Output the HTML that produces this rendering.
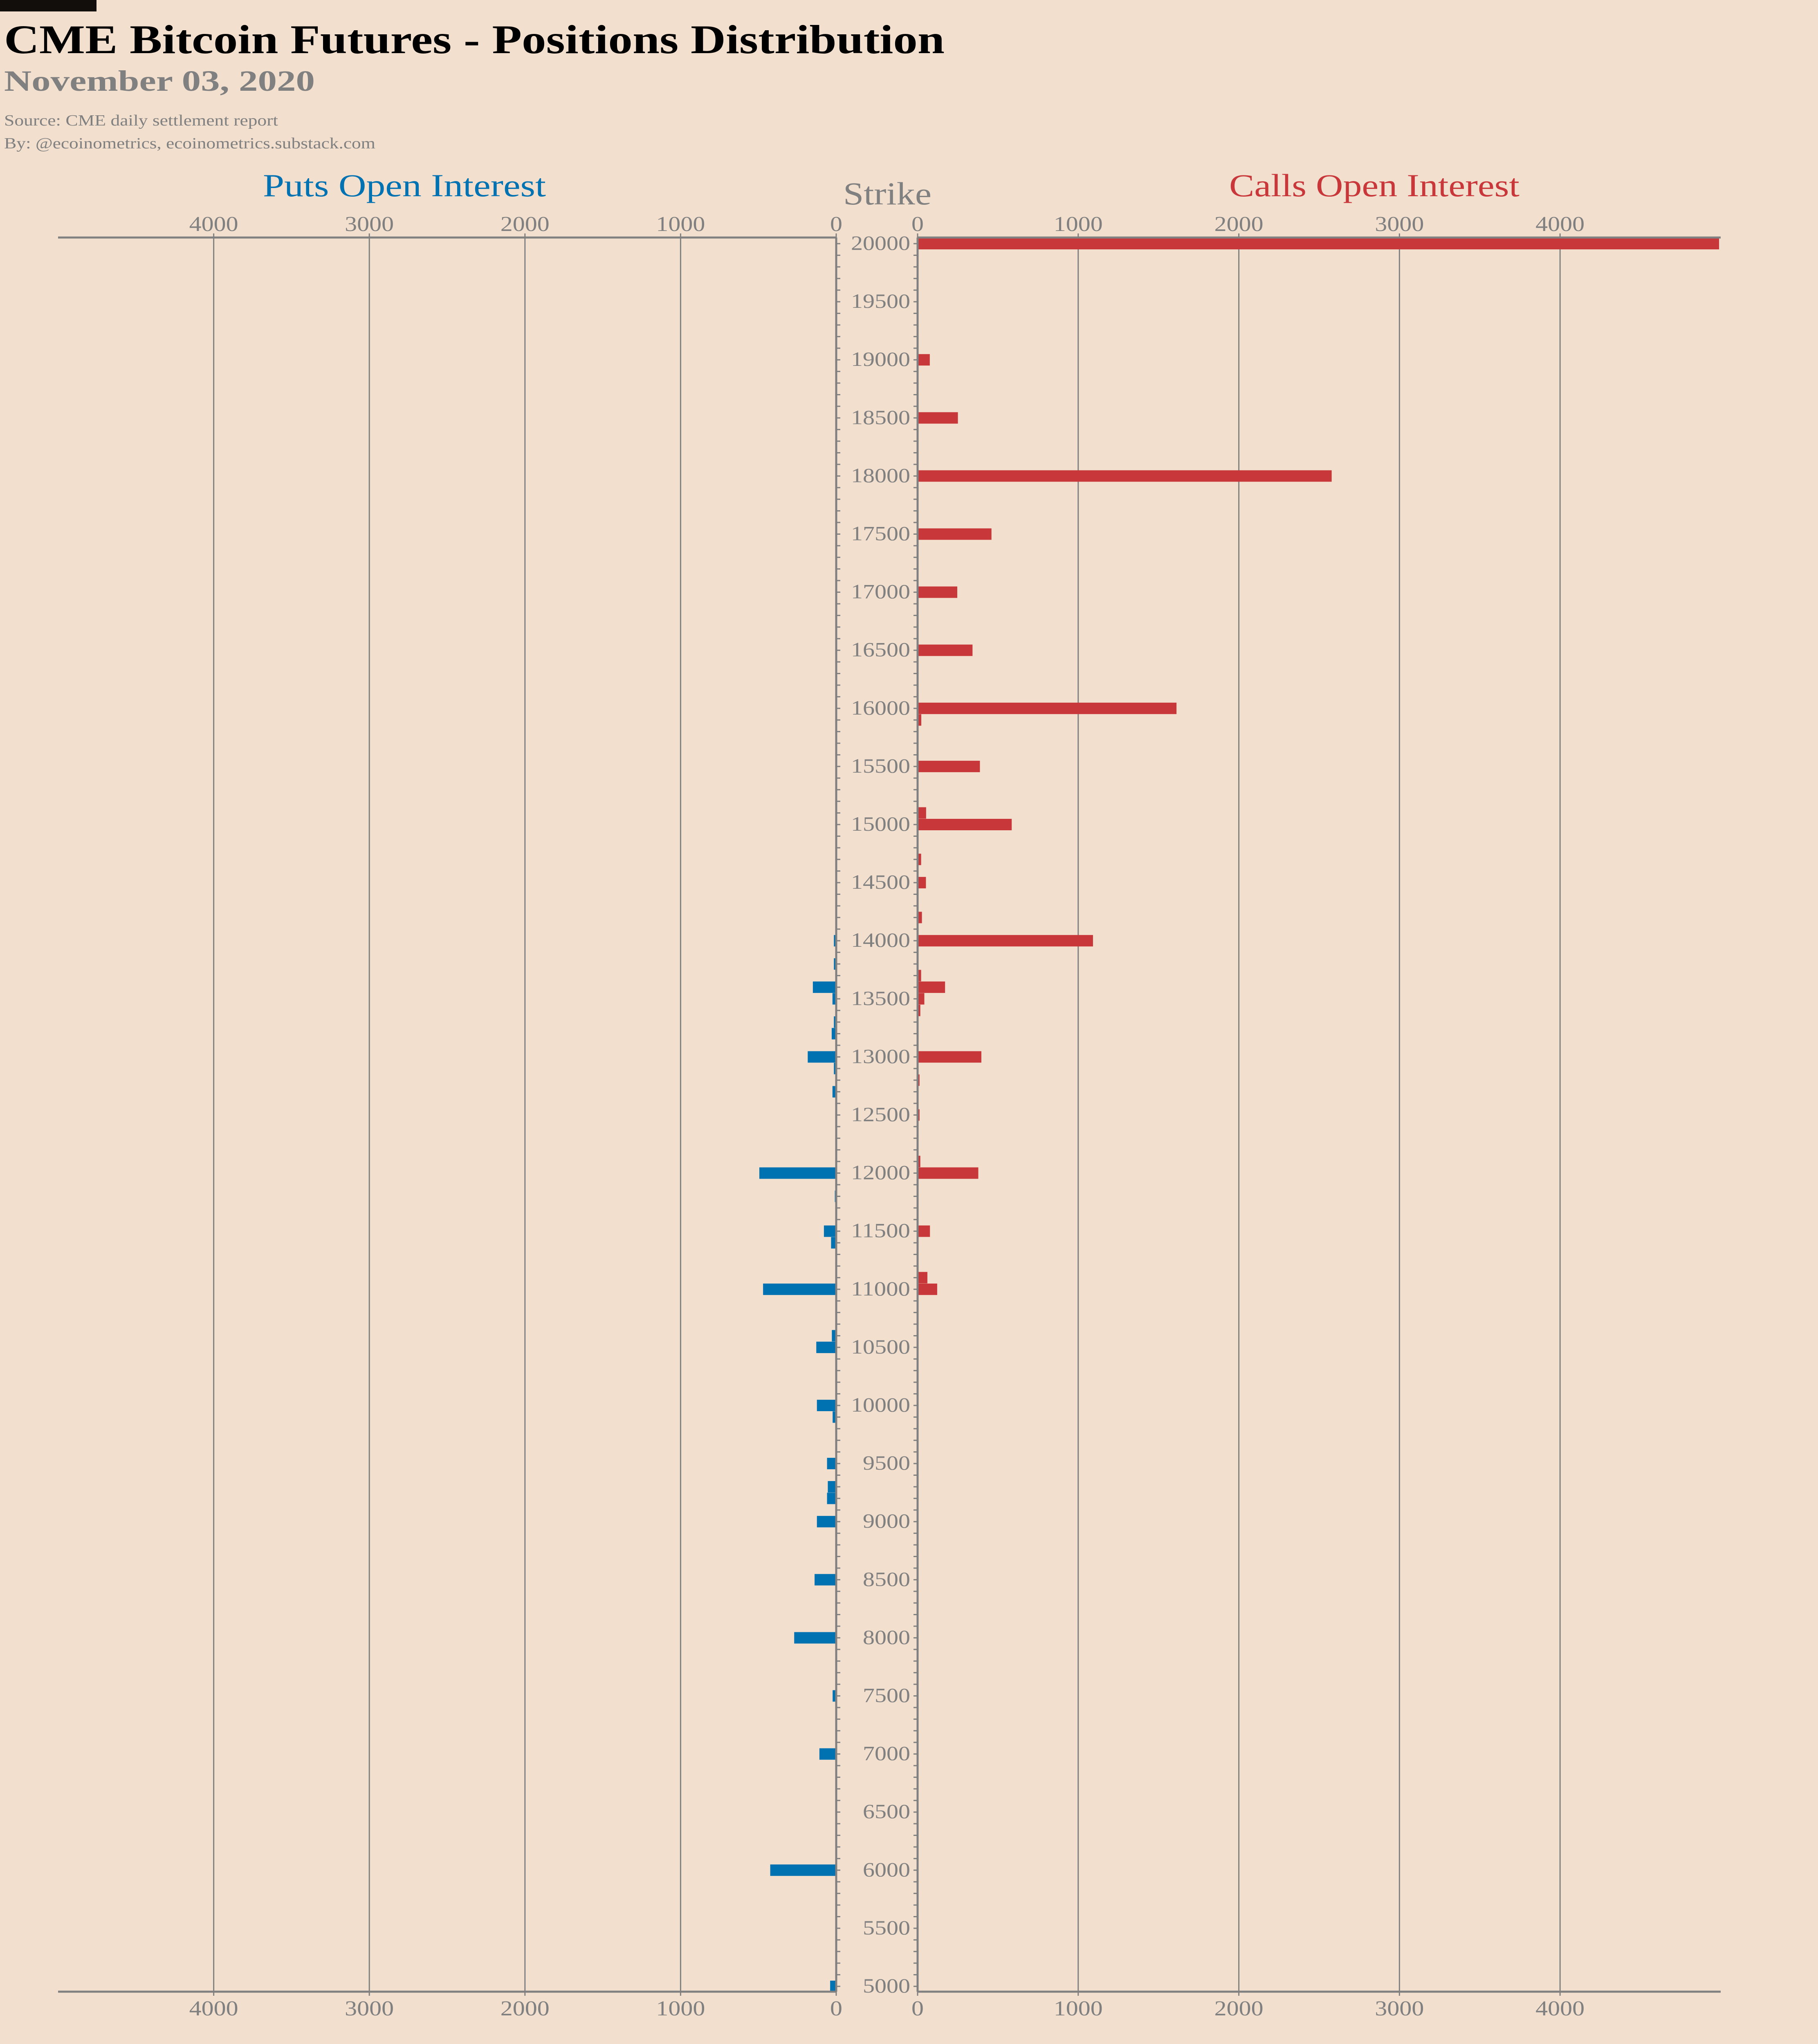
<!DOCTYPE html>
<html>
<head>
<meta charset="utf-8">
<style>
html,body{margin:0;padding:0;background:#f2dfce;width:4446px;height:5051px;overflow:hidden;}
svg{display:block;vertical-align:top;}
body{line-height:0;font-size:0;}
text{font-family:"Liberation Serif",serif;}
</style>
</head>
<body>
<svg id="chart" xmlns="http://www.w3.org/2000/svg" width="4446" height="5051" viewBox="0 0 4446 5051">
<rect x="0" y="0" width="4446" height="5051" fill="#f2dfce"/>
<rect x="0" y="0" width="236" height="28" fill="#110e0b"/>
<text x="10" y="130" font-size="100" font-weight="bold" fill="#000" textLength="2300" lengthAdjust="spacingAndGlyphs">CME Bitcoin Futures - Positions Distribution</text>
<text x="10" y="222" font-size="72" font-weight="bold" fill="#808080" textLength="760" lengthAdjust="spacingAndGlyphs">November 03, 2020</text>
<text x="10" y="307" font-size="38" fill="#808080" textLength="670" lengthAdjust="spacingAndGlyphs">Source: CME daily settlement report</text>
<text x="10" y="363" font-size="38" fill="#808080" textLength="908" lengthAdjust="spacingAndGlyphs">By: @ecoinometrics, ecoinometrics.substack.com</text>
<text x="643" y="480" font-size="78" fill="#0072b2" textLength="692" lengthAdjust="spacingAndGlyphs">Puts Open Interest</text>
<text x="2062" y="500" font-size="78" fill="#808080" textLength="216" lengthAdjust="spacingAndGlyphs">Strike</text>
<text x="3006" y="480" font-size="78" fill="#c8373a" textLength="710" lengthAdjust="spacingAndGlyphs">Calls Open Interest</text>
<g id="grid"></g>
<g id="bars"></g>
<g id="axes"></g>
</svg>
<script>
const callStrikes = [20000,19000,18500,18000,17500,17000,16500,16000,15900,15500,15100,15000,14700,14500,14200,14000,13700,13600,13500,13400,13200,13000,12800,12500,12100,12000,11800,11500,11300,11100,11000,10800];
const callValues  = [4990,76,251,2578,460,247,342,1612,23,388,53,586,22,52,27,1092,22,171,42,17,3,397,12,12,17,378,2,77,2,61,122,2];
const putStrikes = [14000,13800,13600,13500,13300,13200,13000,12900,12700,12400,12000,11800,11500,11400,11100,11000,10800,10600,10500,10000,9900,9500,9300,9200,9000,8600,8500,8000,7500,7000,6000,5500,5000];
const putValues  = [15,15,150,24,15,29,183,15,24,5,494,9,79,33,3,470,3,28,128,124,23,59,54,59,124,3,139,270,23,108,424,3,39];
const valueTicks = [0,1000,2000,3000,4000];
const strikeTicks = [20000,19500,19000,18500,18000,17500,17000,16500,16000,15500,15000,14500,14000,13500,13000,12500,12000,11500,11000,10500,10000,9500,9000,8500,8000,7500,7000,6500,6000,5500,5000];

const NS = "http://www.w3.org/2000/svg";
const TOP = 581, BOT = 4872;
const PUT0 = 2045, PUTL = 142, CALL0 = 2244, CALLR = 4208;
const GRAY = "#808080";
function yS(s){ return 596 + (20000 - s) * 0.28420; }
function xPut(v){ return PUT0 - v * (PUT0 - PUTL) / 5000; }
function xCall(v){ return CALL0 + v * (CALLR - CALL0) / 5000; }
function mk(tag, attrs, parent){
  const e = document.createElementNS(NS, tag);
  for (const k in attrs) e.setAttribute(k, attrs[k]);
  parent.appendChild(e);
  return e;
}
const grid = document.getElementById('grid');
const bars = document.getElementById('bars');
const axes = document.getElementById('axes');

valueTicks.forEach(v => {
  const xp = xPut(v), xc = xCall(v);
  let g1 = mk('line', {x1:xp, x2:xp, y1:TOP-10, y2:BOT+10, stroke:GRAY, 'stroke-width':3}, grid);
  
  
  let g2 = mk('line', {x1:xc, x2:xc, y1:TOP-10, y2:BOT+10, stroke:GRAY, 'stroke-width':3}, grid);
  
  
  const w = String(v).length * 30;
  [[xp,'puts'],[xc,'calls']].forEach(([x,side]) => {
    [[TOP-16,'top'],[BOT+58,'bottom']].forEach(([y,pos]) => {
      const t = mk('text', {x:x, y:y, 'font-size':52, fill:GRAY, 'text-anchor':'middle', textLength:w, lengthAdjust:'spacingAndGlyphs'}, axes);
      
      
      t.textContent = v;
    });
  });
});

[[PUTL,PUT0,TOP],[PUTL,PUT0,BOT],[CALL0,CALLR,TOP],[CALL0,CALLR,BOT]].forEach(([a,b,y]) => {
  const l = mk('line', {x1:a, x2:b, y1:y, y2:y, stroke:GRAY, 'stroke-width':5}, axes);
  
  
});
[PUT0, CALL0].forEach(x => {
  const l = mk('line', {x1:x, x2:x, y1:TOP, y2:BOT, stroke:GRAY, 'stroke-width':5}, axes);
  
  
});
for (let s = 5000; s <= 20000; s += 100) {
  const y = yS(s);
  const a = mk('line', {x1:PUT0, x2:PUT0+10, y1:y, y2:y, stroke:GRAY, 'stroke-width':3}, axes);
  
  
  const b = mk('line', {x1:CALL0-10, x2:CALL0, y1:y, y2:y, stroke:GRAY, 'stroke-width':3}, axes);
  
  
}
strikeTicks.forEach(s => {
  const t = mk('text', {x:2226, y:yS(s)+15, 'font-size':50, fill:GRAY, 'text-anchor':'end', textLength:String(s).length*29, lengthAdjust:'spacingAndGlyphs'}, axes);
  
  
  t.textContent = s;
});

const BH = 28;
callStrikes.forEach((s,i) => {
  const x = xCall(0), w = xCall(callValues[i]) - x;
  const r = mk('rect', {x:x, y:yS(s)-BH/2, width:Math.max(w,1), height:BH, fill:'#c8373a'}, bars);
  
  
});
putStrikes.forEach((s,i) => {
  const x = xPut(putValues[i]), w = xPut(0) - x;
  const r = mk('rect', {x:x, y:yS(s)-BH/2, width:Math.max(w,1), height:BH, fill:'#0072b2'}, bars);
  
  
});
</script>
</body>
</html>
